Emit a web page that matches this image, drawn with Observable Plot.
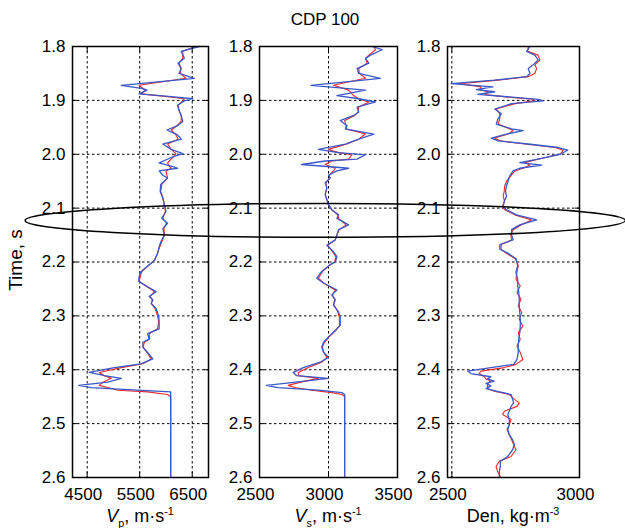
<!DOCTYPE html>
<html><head><meta charset="utf-8">
<script src="https://cdn.jsdelivr.net/npm/d3@7"></script>
<script src="https://cdn.jsdelivr.net/npm/@observablehq/plot@0.6"></script>
<style>
body{margin:0;background:#fff;}
#chart{position:relative;width:625px;height:528px;font-family:"Liberation Sans",Arial,sans-serif;color:#000;overflow:hidden;background:#fff}
.lbl{position:absolute;white-space:nowrap;line-height:1;}
.lbl sub,.lbl sup{font-size:0.6em;line-height:0;}
#chart svg.panel{position:absolute;top:0;overflow:visible}
</style></head><body><div id="chart"></div>
<script>
// ---- data ----
const timeTicks = [1.8, 1.9, 2.0, 2.1, 2.2, 2.3, 2.4, 2.5, 2.6];
const timeGrid = [1.9, 2.0, 2.1, 2.2, 2.3, 2.4, 2.5];
const vpTicks = [4500, 5500, 6500];
const vsTicks = [2500, 3000, 3500];
const denTicks = [2500, 3000];

const vpTime = [1.800,1.809,1.822,1.831,1.841,1.850,1.859,1.872,1.878,1.881,1.888,1.893,1.897,1.901,1.909,1.919,1.928,1.939,1.947,1.955,1.964,1.972,1.981,1.991,1.999,2.006,2.016,2.022,2.026,2.031,2.039,2.044,2.056,2.069,2.081,2.094,2.106,2.119,2.128,2.138,2.150,2.163,2.172,2.184,2.197,2.205,2.218,2.227,2.236,2.246,2.255,2.264,2.270,2.277,2.286,2.300,2.311,2.324,2.333,2.343,2.349,2.358,2.368,2.380,2.389,2.396,2.405,2.411,2.416,2.423,2.429,2.433,2.438,2.441,2.446,2.450,2.600];
const vpBlue = [6630,6290,6350,6230,6290,6250,6540,5150,5560,5640,5490,6100,6510,6350,6220,6250,6290,6320,6220,6020,6220,6290,5940,6100,6320,6100,5870,6100,6220,5870,5940,6030,5900,5890,5940,5970,6000,5920,6030,5940,5970,5900,5870,5840,5780,5680,5520,5490,5480,5650,5810,5680,5750,5720,5810,5860,5870,5870,5650,5680,5560,5560,5650,5750,5520,5020,4540,4830,5150,4890,4340,4580,5460,6090,6090,6090,6090];
const vpRed = [6570,6320,6320,6250,6290,6270,6380,5490,5560,5600,5530,6030,6350,6320,6230,6250,6290,6290,6210,6100,6190,6230,6030,6100,6190,6130,6030,6060,6100,6000,6020,6030,5920,5900,5940,5970,5990,5940,6010,5960,5970,5920,5880,5840,5780,5690,5540,5510,5490,5640,5780,5700,5740,5720,5790,5840,5860,5840,5680,5690,5590,5560,5640,5720,5560,5150,4730,4830,4960,4800,4730,4890,5080,5650,6030,6090,6090];

const vsTime = [1.800,1.806,1.816,1.822,1.831,1.841,1.850,1.859,1.872,1.881,1.891,1.897,1.903,1.9125,1.922,1.928,1.9375,1.947,1.953,1.9625,1.972,1.981,1.991,1.997,2.001,2.009,2.0125,2.019,2.026,2.031,2.039,2.044,2.053,2.0625,2.075,2.084,2.094,2.103,2.1125,2.119,2.131,2.140,2.150,2.159,2.169,2.181,2.190,2.200,2.205,2.2175,2.230,2.239,2.252,2.261,2.270,2.280,2.2925,2.302,2.3175,2.327,2.339,2.349,2.358,2.3675,2.377,2.386,2.396,2.405,2.411,2.416,2.4225,2.429,2.433,2.438,2.4425,2.446,2.450,2.600];
const vsBlue = [3316,3389,3304,3268,3292,3207,3219,3377,2873,3268,3061,3219,3341,3207,3219,3182,3085,3134,3122,3328,3219,3122,2927,3073,3268,3207,2976,2805,3146,3061,3000,3012,2976,2988,2976,2988,3000,3024,3073,3061,3146,3073,3061,3049,2988,3036,3061,3049,3012,2951,2915,2964,3061,3024,3049,3036,3073,3085,3085,3049,3000,2964,2951,2964,3000,2939,2818,2745,2769,3000,2781,2550,2635,2927,3097,3117,3117,3117];
const vsRed = [3328,3341,3292,3268,3280,3219,3224,3268,3036,3146,3182,3219,3292,3219,3214,3190,3117,3127,3127,3268,3219,3134,3000,3073,3170,3146,3024,2976,3049,3036,3005,3010,2981,2988,2976,2988,3000,3024,3068,3073,3127,3078,3061,3049,2995,3029,3054,3044,3015,2956,2927,2964,3049,3029,3044,3039,3068,3078,3080,3054,3005,2971,2956,2966,2988,2951,2854,2781,2781,2927,2805,2708,2757,2878,3024,3097,3117,3117];

const denTime = [1.800,1.809,1.816,1.825,1.834,1.841,1.850,1.856,1.8625,1.869,1.875,1.880,1.884,1.889,1.894,1.898,1.901,1.906,1.916,1.925,1.934,1.944,1.953,1.956,1.9625,1.970,1.975,1.981,1.9875,1.9925,2.000,2.0075,2.0155,2.020,2.026,2.031,2.040,2.050,2.059,2.069,2.078,2.0875,2.097,2.103,2.1125,2.122,2.131,2.140,2.150,2.159,2.1675,2.176,2.184,2.194,2.207,2.219,2.232,2.244,2.2565,2.269,2.281,2.294,2.306,2.319,2.331,2.3435,2.356,2.368,2.381,2.390,2.396,2.4025,2.407,2.413,2.417,2.421,2.4255,2.430,2.435,2.440,2.446,2.455,2.4615,2.468,2.477,2.483,2.4925,2.502,2.511,2.5205,2.530,2.539,2.5485,2.561,2.570,2.5795,2.589,2.600];
const denBlue = [2806,2793,2825,2838,2819,2799,2806,2793,2668,2497,2661,2596,2668,2602,2734,2838,2858,2734,2668,2694,2681,2674,2734,2779,2714,2655,2681,2799,2917,2954,2924,2852,2766,2852,2766,2740,2727,2720,2714,2710,2714,2705,2701,2714,2753,2832,2766,2734,2734,2740,2688,2688,2720,2752,2758,2751,2758,2758,2762,2764,2764,2766,2768,2768,2766,2762,2760,2760,2755,2742,2653,2562,2575,2653,2640,2666,2634,2653,2634,2679,2732,2738,2742,2732,2725,2719,2725,2725,2719,2725,2738,2745,2738,2719,2690,2690,2686,2686];
const denRed = [2799,2797,2838,2845,2825,2832,2825,2799,2681,2530,2615,2609,2642,2629,2720,2819,2825,2747,2674,2688,2688,2681,2727,2740,2720,2668,2688,2786,2904,2937,2924,2852,2786,2806,2779,2747,2731,2714,2707,2705,2701,2707,2697,2707,2747,2812,2773,2740,2731,2734,2694,2692,2714,2749,2760,2755,2751,2768,2755,2771,2760,2774,2764,2778,2760,2768,2755,2768,2778,2751,2706,2614,2607,2627,2634,2653,2640,2640,2640,2666,2725,2745,2764,2755,2706,2699,2732,2725,2716,2725,2734,2742,2751,2732,2686,2673,2679,2692];

// ellipse annotation, in Vs-panel units (centre, half-width) and time (centre, half-height)
const ellipseVs = [2980, 2175];
const ellipseTime = [2.1237, 0.0315];

// ---- drawing ----
const RED = "#ee2a2a", BLUE = "#3a58c8";
const FONT = '"Liberation Sans", Arial, sans-serif';
const H = 528, MT = 46, MB = 51;
const chart = document.getElementById("chart");
const blank = () => "";

function makePanel({time, blue, red, domain, ticks, left, width, ml, mr}) {
  const grid = {stroke: "#000", strokeOpacity: 1, strokeWidth: 1, strokeDasharray: "2.5,2.5"};
  const p = Plot.plot({
    width, height: H, marginLeft: ml, marginRight: mr, marginTop: MT, marginBottom: MB,
    style: {fontFamily: FONT, fontSize: "17px", background: "transparent", color: "#000", overflow: "visible"},
    x: {domain, label: null},
    y: {domain: [1.8, 2.6], reverse: true, label: null},
    marks: [
      Plot.gridX(ticks, grid),
      Plot.gridY(timeGrid, grid),
      Plot.line(time, {x: red, y: time, stroke: RED, strokeWidth: 1.1}),
      Plot.line(time, {x: blue, y: time, stroke: BLUE, strokeWidth: 1.3}),
      Plot.frame({stroke: "#000", strokeWidth: 1.5}),
      Plot.axisY(timeTicks, {anchor: "left", tickSize: 0, tickPadding: 7, tickFormat: d => d.toFixed(1), fontSize: 17}),
      Plot.axisX(ticks, {anchor: "bottom", tickSize: 0, tickPadding: 10, dx: -4, tickFormat: d => String(d), fontSize: 17}),
      Plot.axisY(timeTicks, {anchor: "left", tickSize: 5, dx: 5, tickFormat: blank}),
      Plot.axisY(timeTicks, {anchor: "right", tickSize: 5, dx: -5, tickFormat: blank}),
      Plot.axisX(ticks, {anchor: "bottom", tickSize: 5, dy: -5, tickFormat: blank}),
      Plot.axisX(ticks, {anchor: "top", tickSize: 5, dy: 5, tickFormat: blank})
    ]
  });
  p.classList.add("panel");
  p.style.left = left + "px";
  chart.appendChild(p);
  return p;
}

const p1 = makePanel({time: vpTime, blue: vpBlue, red: vpRed, domain: [4220, 6810], ticks: vpTicks, left: 0, width: 215, ml: 72, mr: 7});
const p2 = makePanel({time: vsTime, blue: vsBlue, red: vsRed, domain: [2500, 3500], ticks: vsTicks, left: 215, width: 190, ml: 44, mr: 8});
const p3 = makePanel({time: denTime, blue: denBlue, red: denRed, domain: [2483, 3000], ticks: denTicks, left: 405, width: 220, ml: 42, mr: 46});

// ellipse overlay using panel-2 scales
const sx = p2.scale("x"), sy = p2.scale("y");
const cx = 215 + sx.apply(ellipseVs[0]);
const rx = sx.apply(ellipseVs[0] + ellipseVs[1]) - sx.apply(ellipseVs[0]);
const cy = sy.apply(ellipseTime[0]);
const ry = sy.apply(ellipseTime[0] + ellipseTime[1]) - cy;
const ov = d3.select(chart).append("svg")
  .attr("width", 625).attr("height", 528)
  .style("position", "absolute").style("left", "0px").style("top", "0px").style("pointer-events", "none");
ov.append("ellipse").attr("cx", cx).attr("cy", cy).attr("rx", rx).attr("ry", ry)
  .attr("fill", "none").attr("stroke", "#000").attr("stroke-width", 1.5);

// texts
function label(html, x, y, size, rotate) {
  const d = document.createElement("div");
  d.className = "lbl";
  d.innerHTML = html;
  d.style.left = x + "px";
  d.style.top = y + "px";
  d.style.fontSize = size + "px";
  d.style.transform = "translate(-50%,-50%)" + (rotate ? " rotate(-90deg)" : "");
  chart.appendChild(d);
}
label("CDP 100", 325, 19, 17);
label("Time, s", 15, 260, 19, true);
label("<i>V</i><sub>p</sub>, m·s<sup>-1</sup>", 140, 516, 18);
label("<i>V</i><sub>s</sub>, m·s<sup>-1</sup>", 328, 516, 18);
label("Den, kg·m<sup>-3</sup>", 513, 516, 18);
</script></body></html>
